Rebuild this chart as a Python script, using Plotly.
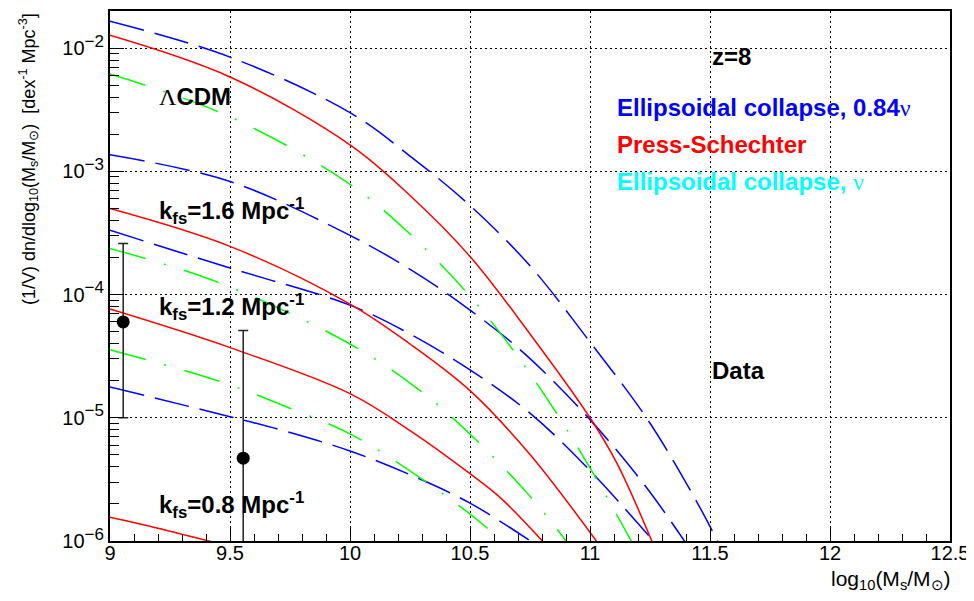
import plotly.graph_objects as go

# ---------------- data ----------------
# log10(Ms/Msun) and (1/V) dn/dlog10(Ms/Msun) [dex^-1 Mpc^-3]
lcdm_ec_x = [9.0, 9.5, 10.0, 10.25, 10.5, 10.75, 11.0, 11.243, 11.446, 11.533]
lcdm_ec_y = [1.65e-2, 8.45e-3, 2.99e-3, 1.33e-3, 5.28e-4, 1.71e-4, 4.12e-5, 9.48e-6, 2.06e-6, 9.84e-7]
lcdm_ps_x = [9.0, 9.5, 10.0, 10.25, 10.5, 10.75, 11.0, 11.1125, 11.258]
lcdm_ps_y = [1.27e-2, 5.83e-3, 1.64e-3, 6.37e-4, 2.04e-4, 4.79e-5, 1.0e-5, 4.26e-6, 9.95e-7]
lcdm_ev_x = [9.0, 9.5, 10.0, 10.25, 10.5, 10.674, 10.854, 11.014, 11.174]
lcdm_ev_y = [6.17e-3, 2.77e-3, 7.85e-4, 3.10e-4, 9.70e-5, 3.66e-5, 1.14e-5, 3.52e-6, 9.84e-7]

k16_ec_x = [9.0, 9.5, 10.0, 10.2625, 10.5, 10.733, 11.0, 11.229, 11.396]
k16_ec_y = [1.36e-3, 8.26e-4, 3.02e-4, 1.55e-4, 7.48e-5, 3.24e-5, 9.66e-6, 2.82e-6, 9.84e-7]
k16_ps_x = [9.0, 9.5, 10.0, 10.25, 10.5, 10.75, 11.029]
k16_ps_y = [4.99e-4, 2.46e-4, 8.36e-5, 3.97e-5, 1.66e-5, 5.04e-6, 9.84e-7]
k16_ev_x = [9.0, 9.458, 10.0, 10.292, 10.528, 10.753, 10.903]
k16_ev_y = [2.37e-4, 1.24e-4, 3.97e-5, 1.66e-5, 6.53e-6, 2.27e-6, 9.84e-7]

k12_ec_x = [9.0, 9.5, 10.0, 10.25, 10.5, 10.75, 11.0, 11.267]
k12_ec_y = [3.32e-4, 1.64e-4, 8.20e-5, 4.79e-5, 2.45e-5, 1.09e-5, 3.73e-6, 9.84e-7]
k12_ps_x = [9.0, 9.5, 10.0, 10.25, 10.5, 10.625, 10.805]
k12_ps_y = [7.62e-5, 3.71e-5, 1.57e-5, 7.87e-6, 3.52e-6, 2.26e-6, 9.84e-7]
k12_ev_x = [9.0, 9.458, 9.757, 10.0, 10.305, 10.570, 10.625]
k12_ev_y = [3.56e-5, 1.97e-5, 1.18e-5, 7.40e-6, 3.14e-6, 1.28e-6, 9.95e-7]

k08_ec_x = [9.0, 9.5, 9.75, 10.0, 10.25, 10.5, 10.757]
k08_ec_y = [1.78e-5, 1.02e-5, 7.59e-6, 5.38e-6, 3.45e-6, 2.03e-6, 9.84e-7]
k08_ps_x = [9.0, 9.2, 9.42]
k08_ps_y = [1.56e-6, 1.27e-6, 9.9e-7]

data_x = [9.055, 9.555]
data_y = [6.0e-5, 4.7e-6]
data_hi = [2.6e-4, 5.1e-5]
data_lo = [1.0e-5, 1.0e-7]

y_tick_vals = [1e-6, 1e-5, 1e-4, 1e-3, 1e-2]
y_tick_exps = ["\u22126", "\u22125", "\u22124", "\u22123", "\u22122"]

# ---------------- styles ----------------
BLUE, RED, GREEN = "#0000ff", "#ff0000", "#00ff00"
DASH_EC = "35px,11px"
DASH_EV = "37px,19px,2px,19px"
LW = 1.5

fig = go.Figure()

def add_curve(x, y, color, dash):
    fig.add_trace(go.Scatter(x=x, y=y, mode="lines",
                             line=dict(color=color, width=LW, dash=dash, shape="spline", smoothing=1.0),
                             hoverinfo="skip", showlegend=False))

for (x, y) in [(lcdm_ec_x, lcdm_ec_y), (k16_ec_x, k16_ec_y), (k12_ec_x, k12_ec_y), (k08_ec_x, k08_ec_y)]:
    add_curve(x, y, BLUE, DASH_EC)
for (x, y) in [(lcdm_ps_x, lcdm_ps_y), (k16_ps_x, k16_ps_y), (k12_ps_x, k12_ps_y), (k08_ps_x, k08_ps_y)]:
    add_curve(x, y, RED, "solid")
for (x, y) in [(lcdm_ev_x, lcdm_ev_y), (k16_ev_x, k16_ev_y), (k12_ev_x, k12_ev_y)]:
    add_curve(x, y, GREEN, DASH_EV)

fig.add_trace(go.Scatter(
    x=data_x, y=data_y, mode="markers",
    marker=dict(color="black", size=13, symbol="circle"),
    error_y=dict(type="data", symmetric=False,
                 array=[h - v for h, v in zip(data_hi, data_y)],
                 arrayminus=[v - l for l, v in zip(data_lo, data_y)],
                 color="#222222", thickness=1.5, width=5),
    hoverinfo="skip", showlegend=False))

# minor ticks for log axis
minor_y = []
for e in range(-6, -1):
    for m in range(2, 10):
        v = m * 10.0 ** e
        if v < 0.02:
            minor_y.append(v)

FONT = "Liberation Sans, Arial, Helvetica, sans-serif"
SERIF = "Liberation Serif, Times New Roman, serif"

fig.update_layout(
    width=966, height=593,
    margin=dict(l=102, r=24, t=1, b=60),
    plot_bgcolor="white", paper_bgcolor="white",
    showlegend=False,
    font=dict(family=FONT, color="black"),
    xaxis=dict(range=[9, 12.5], tick0=9, dtick=0.5, ticks="inside", ticklen=13, tickwidth=1,
               tickcolor="black", showline=True, linewidth=2, linecolor="black", mirror=True,
               showgrid=True, gridcolor="black", gridwidth=1, griddash="2px,3px", zeroline=False,
               tickfont=dict(size=20, family=FONT), ticklabelstandoff=-7,
               minor=dict(dtick=0.1, tick0=9, ticks="inside", ticklen=7, tickcolor="black", showgrid=False)),
    yaxis=dict(type="log", range=[-6, -1.699], tickmode="array", tickvals=y_tick_vals,
               ticktext=["10<sup><span style='font-size:17px'>%s</span></sup>" % s for s in y_tick_exps],
               ticks="inside", ticklen=14, tickwidth=1, tickcolor="black",
               showline=True, linewidth=2, linecolor="black", mirror=True,
               showgrid=True, gridcolor="black", gridwidth=1, griddash="2px,3px", zeroline=False,
               tickfont=dict(size=20, family=FONT),
               minor=dict(tickmode="array", tickvals=minor_y, ticks="inside", ticklen=9,
                          tickcolor="black", showgrid=False)),
)

def note(x, ylog, text, color="black", size=24):
    fig.add_annotation(x=x, y=ylog, xref="x", yref="y", text=text, showarrow=False,
                       xanchor="left", yanchor="middle",
                       font=dict(size=size, color=color, family=FONT))

nu = "<span style='font-family:%s;font-weight:normal'>\u03bd</span>" % SERIF
lam = "<span style='font-family:%s;font-weight:normal'>\u039b</span>" % SERIF

note(9.196, -2.396, lam + "<b>CDM</b>")
note(9.196, -3.325, "<b>k<sub>fs</sub>=1.6 Mpc<sup>-1</sup></b>")
note(9.196, -4.105, "<b>k<sub>fs</sub>=1.2 Mpc<sup>-1</sup></b>")
note(9.196, -5.705, "<b>k<sub>fs</sub>=0.8 Mpc<sup>-1</sup></b>")
note(11.5, -2.065, "<b>z=8</b>")
note(11.5, -4.619, "<b>Data</b>")
note(11.104, -2.48, "<b>Ellipsoidal collapse, 0.84</b>" + nu, color=BLUE)
note(11.104, -2.785, "<b>Press-Schechter</b>", color=RED)
note(11.104, -3.085, "<b>Ellipsoidal collapse, </b>" + nu, color="#00ffff")

fig.add_annotation(xref="paper", yref="paper", x=1.004, y=-0.074, xanchor="right", yanchor="middle",
                   text="log<sub>10</sub>(M<sub>s</sub>/M<sub>\u2299</sub>)", showarrow=False,
                   font=dict(size=21, family=FONT, color="black"))
fig.add_annotation(xref="paper", yref="paper", x=-0.0976, y=1.0, xanchor="center", yanchor="top",
                   textangle=-90,
                   text="(1/V) dn/dlog<sub>10</sub>(M<sub>s</sub>/M<sub>\u2299</sub>)\u00a0\u00a0[dex<sup>-1</sup> Mpc<sup>-3</sup>]",
                   showarrow=False, font=dict(size=18, family=FONT, color="black"))

fig.write_html("out.html")
